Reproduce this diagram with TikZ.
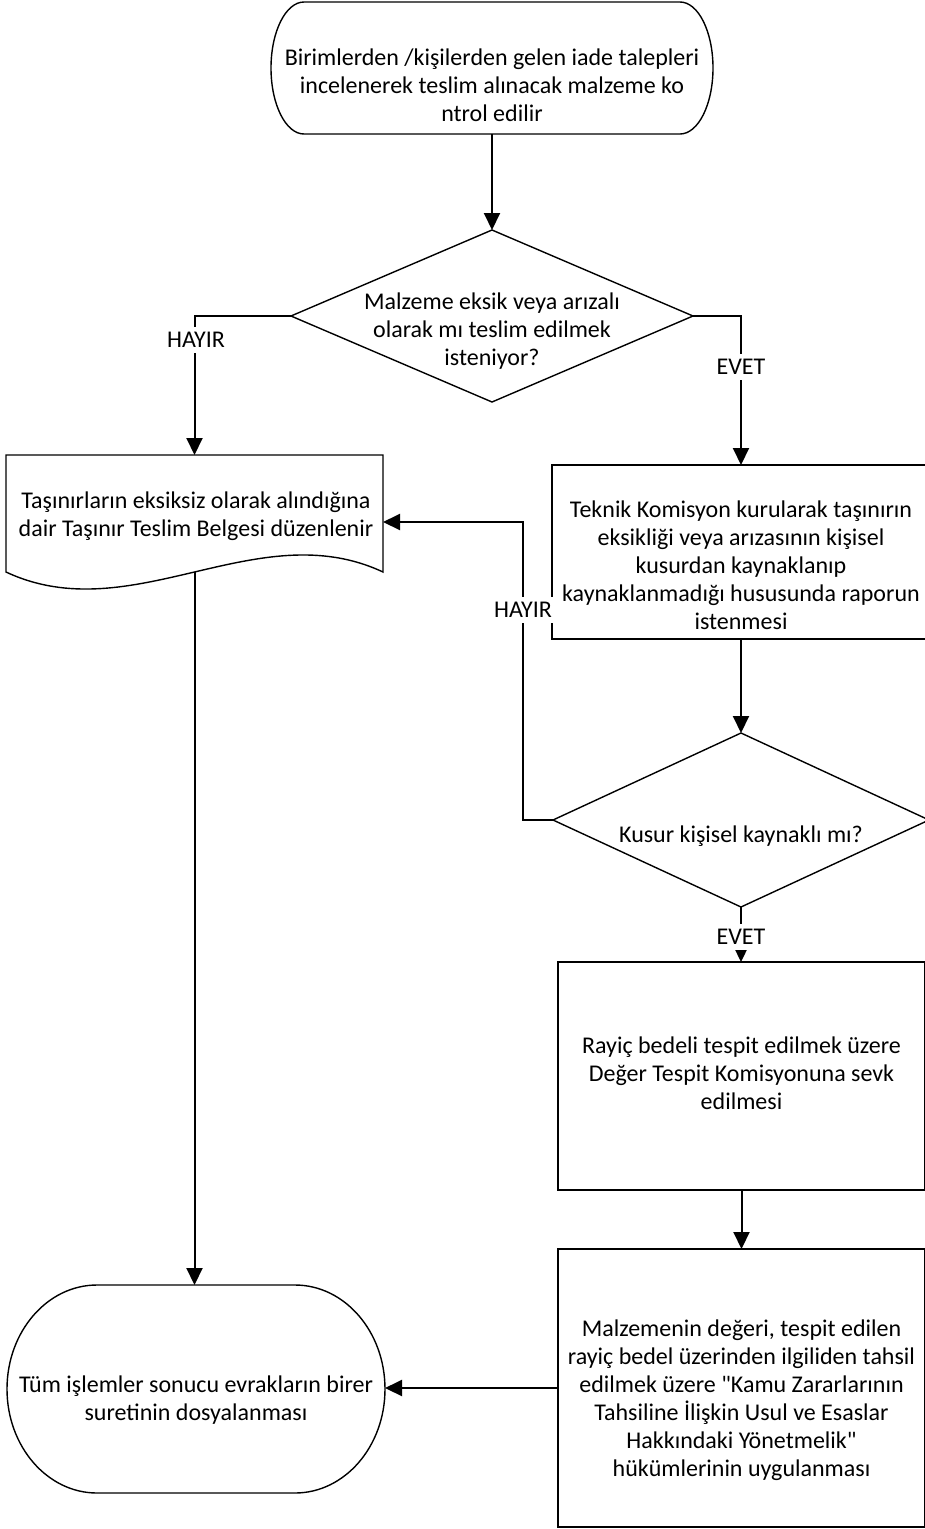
\documentclass[tikz,border=0pt]{standalone}
\usepackage{fontspec}
\setmainfont{Carlito}
\newfontfamily\calfont{Carlito}
\usetikzlibrary{arrows.meta,calc}
\begin{document}
\begin{tikzpicture}[x=1pt,y=-1pt,
  frame/.style={draw=none, inner sep=0pt, outer sep=0pt},
  outline/.style={draw=black, line width=1.4pt, fill=white},
  conn/.style={draw=black, line width=2pt, -{Triangle[length=17pt,width=16pt]}},
  txt/.style={align=center, font=\calfont\fontsize{24}{28}\selectfont, inner sep=0pt},
  lbl/.style={fill=white, draw=none, font=\calfont\fontsize{24}{28}\selectfont, inner xsep=1pt, inner ysep=5pt}]
\useasboundingbox (0,0) rectangle (924,1529);

% ---- shapes (frames) ----
\node[frame, minimum width=442, minimum height=132] (t1) at (492,68) {};
\node[frame, minimum width=402, minimum height=172] (d1) at (492,316) {};
\node[frame, minimum width=377, minimum height=117] (doc) at (194.5,513.5) {};
\node[frame, minimum width=378, minimum height=174] (b1) at (741,552) {};
\node[frame, minimum width=376, minimum height=174] (d2) at (741,820) {};
\node[frame, minimum width=367, minimum height=228] (b2) at (741.5,1076) {};
\node[frame, minimum width=367, minimum height=278] (b3) at (741.5,1388) {};
\node[frame, minimum width=378, minimum height=208] (t2) at (196,1389) {};

% terminator 1
\draw[outline] ($(t1.north west)+(33,0)$) -- ($(t1.north east)+(-33,0)$)
  arc[start angle=90, end angle=-90, x radius=33pt, y radius=66pt]
  -- ($(t1.south west)+(33,0)$)
  arc[start angle=270, end angle=90, x radius=33pt, y radius=66pt] -- cycle;
% decision 1
\draw[outline] (d1.north) -- (d1.east) -- (d1.south) -- (d1.west) -- cycle;
% document
\draw[outline] (doc.south west) -- (doc.north west) -- (doc.north east) -- (doc.south east)
  .. controls ($(doc.south east)+(-126,-59)$) and ($(doc.south west)+(126,59)$) .. (doc.south west) -- cycle;
% process boxes
\draw[outline] (b1.north west) rectangle (b1.south east);
\draw[outline] (d2.north) -- (d2.east) -- (d2.south) -- (d2.west) -- cycle;
\draw[outline] (b2.north west) rectangle (b2.south east);
\draw[outline] (b3.north west) rectangle (b3.south east);
% terminator 2
\draw[outline] ($(t2.north west)+(90,0)$) -- ($(t2.north east)+(-90,0)$)
  arc[start angle=90, end angle=-90, x radius=90pt, y radius=104pt]
  -- ($(t2.south west)+(90,0)$)
  arc[start angle=270, end angle=90, x radius=90pt, y radius=104pt] -- cycle;

% ---- texts ----
\node[txt] (t1txt) at (492,85) {Birimlerden /kişilerden gelen iade talepleri\\incelenerek teslim alınacak malzeme ko\\ntrol edilir};
\node[txt] (d1txt) at (492,331) {Malzeme eksik veya arızalı\\olarak mı teslim edilmek\\isteniyor?};
\node[txt] (doctxt) at (196,516) {Taşınırların eksiksiz olarak alındığına\\dair Taşınır Teslim Belgesi düzenlenir};
\node[txt] (b1txt) at (741,565) {Teknik Komisyon kurularak taşınırın\\eksikliği veya arızasının kişisel\\kusurdan kaynaklanıp\\kaynaklanmadığı hususunda raporun\\istenmesi};
\node[txt] (d2txt) at (741,836) {Kusur kişisel kaynaklı mı?};
\node[txt] (b2txt) at (741.5,1073) {Rayiç bedeli tespit edilmek üzere\\Değer Tespit Komisyonuna sevk\\edilmesi};
\node[txt] (b3txt) at (741.5,1400) {Malzemenin değeri, tespit edilen\\rayiç bedel üzerinden ilgiliden tahsil\\edilmek üzere "Kamu Zararlarının\\Tahsiline İlişkin Usul ve Esaslar\\Hakkındaki Yönetmelik"\\hükümlerinin uygulanması};
\node[txt] (t2txt) at (196,1400) {Tüm işlemler sonucu evrakların birer\\suretinin dosyalanması};

% ---- connectors ----
\coordinate (hx) at (523,522);
\draw[conn] (t1.south) -- (d1.north);
\draw[conn] (d1.west) -| (doc.north);
\draw[conn] (d1.east) -| (b1.north);
\draw[conn] (b1.south) -- (d2.north);
\draw[conn] (d2.west) -| (hx) -- (hx -| doc.east);
\draw[conn] (d2.south) -- (d2.south |- b2.north);
\draw[conn] (b2.south) -- (b3.north);
\draw[conn] (b3.west) -- (b3.west -| t2.east);
\draw[conn] (doc.south) -- (doc.south |- t2.north);

% ---- labels ----
\node[lbl] (l1) at (196,340) {HAYIR};
\node[lbl] (l2) at (741,367) {EVET};
\node[lbl] (l3) at (523,610) {HAYIR};
\node[lbl] (l4) at (741,937) {EVET};
\end{tikzpicture}
\end{document}
